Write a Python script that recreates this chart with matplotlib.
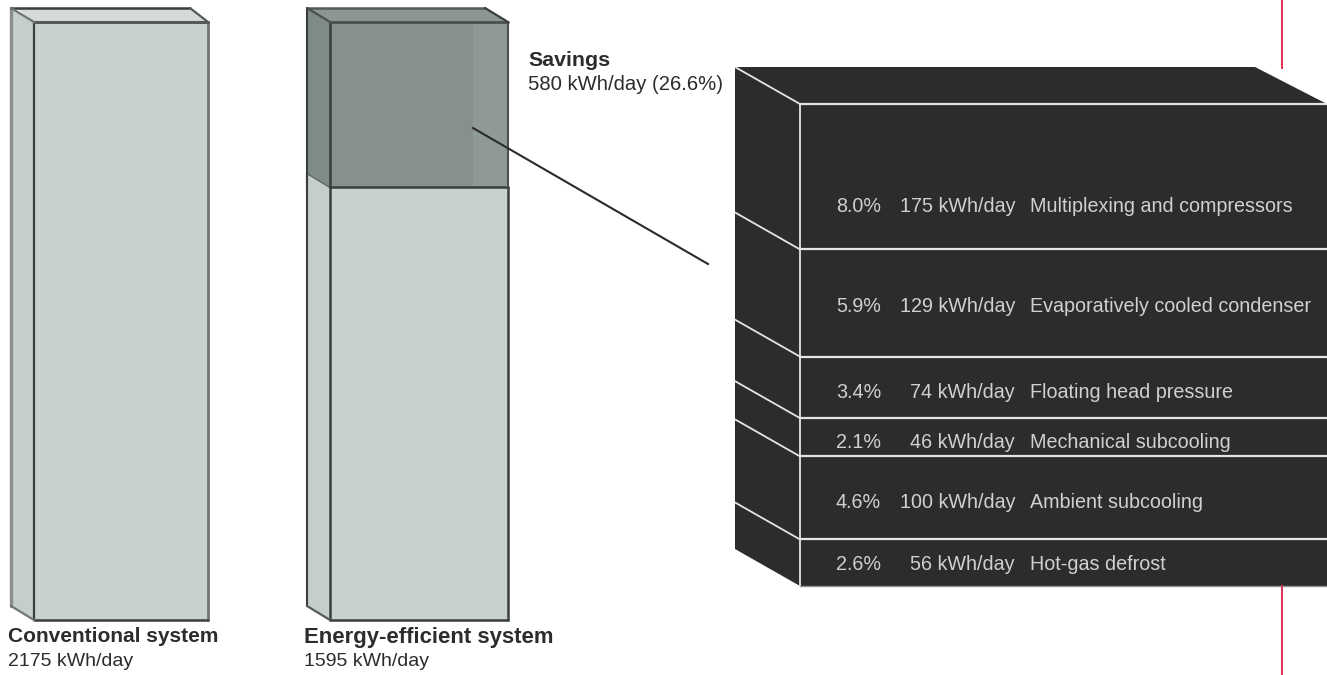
import matplotlib
matplotlib.use('Agg')
from matplotlib import pyplot as plt
from matplotlib.patches import Polygon
import numpy as np

plt.rcParams['font.family'] = ['Liberation Sans', 'DejaVu Sans']

# daily energy use of the two systems
conventional_kwh = 2175
efficient_kwh = 1595
savings_kwh = 580
savings_pct = 26.6

# breakdown of the savings, top of the stack first
measure_names = ['Multiplexing and compressors', 'Evaporatively cooled condenser',
                 'Floating head pressure', 'Mechanical subcooling',
                 'Ambient subcooling', 'Hot-gas defrost']
measure_pct = [8.0, 5.9, 3.4, 2.1, 4.6, 2.6]
measure_kwh = [175, 129, 74, 46, 100, 56]

W, H = 1327, 675
LIGHT = '#c9d1ce'
LIGHT_SIDE = '#c6cecb'
LIGHT_TOP = '#d5dbd9'
EDGE = '#3a3f3e'
DARK = '#2b2d2d'
RULE = '#e4e6e4'
TEXT = '#2c2c2c'

fig = plt.figure(figsize=(W/100, H/100), dpi=100)

# x runs in figure pixels, y in kWh between the given pixel rows
def scale_axes(base_px, top_px, kwh):
    ax = fig.add_axes([0, 0, 1, 1], facecolor='none')
    per_px = kwh/float(base_px-top_px)
    ax.set_xlim(0, W)
    ax.set_ylim(-(H-base_px)*per_px, base_px*per_px)
    ax.axis('off')
    return ax, per_px

def side_face(ax, per_px, x0, depth_x, depth_y, v0, v1, color, zorder=2):
    d = depth_y*per_px
    ax.add_patch(Polygon([[x0, v0], [x0, v1], [x0-depth_x, v1+d], [x0-depth_x, v0+d]],
                         closed=True, facecolor=color, edgecolor='none', zorder=zorder))

def top_face(ax, per_px, x0, x1, depth_x, depth_y, v, color, zorder=2):
    d = depth_y*per_px
    ax.add_patch(Polygon([[x0, v], [x1, v], [x1-depth_x, v+d], [x0-depth_x, v+d]],
                         closed=True, facecolor=color, edgecolor='none', zorder=zorder))

def wire(ax, xs, ys, color=EDGE, lw=1.8, zorder=5):
    ax.plot(xs, ys, color=color, lw=lw, zorder=zorder, solid_capstyle='round',
            solid_joinstyle='round')

# left column: conventional system
ax, k = scale_axes(620, 22, conventional_kwh)
dx, dy = 24, 14
x0, x1 = 34, 208
ax.bar((x0+x1)/2, conventional_kwh, width=x1-x0, color=LIGHT, zorder=3)
side_face(ax, k, x0, dx, 14, 0, conventional_kwh, LIGHT_SIDE)
top_face(ax, k, x0, x1, dx-6, dy, conventional_kwh, LIGHT_TOP)
wire(ax, [x0-dx+1, x0-dx+1], [14*k, conventional_kwh+dy*k], color='#8a8f8e', lw=2.4)
wire(ax, [x1, x1], [0, conventional_kwh], color='#6f7574', lw=2)
wire(ax, [x0, x0], [0, conventional_kwh], lw=1.6)
wire(ax, [x0, x1], [0, 0], lw=1.8)
wire(ax, [x0, x1], [conventional_kwh]*2, color='#555b5a', lw=2.2)
wire(ax, [x0-dx+1, x1-dx+6], [conventional_kwh+dy*k]*2, lw=1.8)
wire(ax, [x0-dx+1, x0], [conventional_kwh+dy*k, conventional_kwh], color='#6f7574', lw=1.6)
wire(ax, [x1-dx+6, x1], [conventional_kwh+dy*k, conventional_kwh], color='#555b5a', lw=1.6)
wire(ax, [x0-dx+1, x0], [14*k, 0], color='#6f7574', lw=1.6)

# middle column: efficient part and the savings sitting on top of it
low, k_low = scale_axes(620, 187, efficient_kwh)
sav, k_sav = scale_axes(187, 22, savings_kwh)
x0, x1 = 330, 508
split = 473
low.bar((x0+x1)/2, efficient_kwh, width=x1-x0, color=LIGHT, zorder=3)
side_face(low, k_low, x0, 23, 14, 0, efficient_kwh, LIGHT_SIDE)
wire(low, [x0, x0], [0, efficient_kwh], lw=1.8)
wire(low, [x1, x1], [0, efficient_kwh], lw=1.8)
wire(low, [x0, x1], [0, 0], lw=1.8)
wire(low, [x0-23, x0-23], [14*k_low, efficient_kwh+14*k_low], lw=1.5)
wire(low, [x0-23, x0], [14*k_low, 0], color='#555b5a', lw=1.6)
wire(low, [x0-23, x0], [efficient_kwh+14*k_low, efficient_kwh], color='#555b5a', lw=1.6)

sav.bar((x0+split)/2, savings_kwh, width=split-x0, color='#87918c', zorder=3)
sav.bar((split+x1)/2, savings_kwh, width=x1-split, color='#909a95', zorder=3)
side_face(sav, k_sav, x0, 23, 14, 0, savings_kwh, '#7f8b86')
top_face(sav, k_sav, x0, x1, 23, 14, savings_kwh, '#8d9792')
wire(sav, [x0, x1], [0, 0], lw=1.8)
wire(sav, [x0, x0], [0, savings_kwh], lw=1.8)
wire(sav, [x1, x1], [0, savings_kwh], color='#4a504e', lw=1.5)
wire(sav, [x0, x1], [savings_kwh]*2, color='#4a504e', lw=2)
wire(sav, [x0-23, x1-23], [savings_kwh+14*k_sav]*2, color='#555b5a', lw=1.8)
wire(sav, [x0-23, x0-23], [0, savings_kwh+14*k_sav], lw=1.5)
wire(sav, [x0-23, x0], [savings_kwh+14*k_sav, savings_kwh], color='#4a504e', lw=1.6)
wire(sav, [x1-23, x1], [savings_kwh+14*k_sav, savings_kwh], lw=1.6)

# right: the savings broken out into a dark stack, bottom band first
st, k_st = scale_axes(586, 104, savings_kwh)
x0, x1 = 800, W+30
dx, dy = 65, 37
band_kwh = np.array(measure_kwh[::-1])
band_base = np.concatenate([[0], np.cumsum(band_kwh)[:-1]])
st.bar(np.full(len(band_kwh), (x0+x1)/2), band_kwh, bottom=band_base, width=x1-x0,
       color=DARK, zorder=3)
side_face(st, k_st, x0, dx, dy, 0, savings_kwh, DARK)
d = dy*k_st
st.add_patch(Polygon([[x0, savings_kwh], [W, savings_kwh], [1255, savings_kwh+d],
                      [x0-dx, savings_kwh+d]], closed=True, facecolor=DARK,
                     edgecolor='none', zorder=2))
wire(st, [x0, x0], [0, savings_kwh], color=RULE, lw=1.3)
for v in np.concatenate([band_base[1:], [savings_kwh]]):
    wire(st, [x0, W], [v, v], color=RULE, lw=1.6)
    wire(st, [x0-dx, x0], [v+d, v], color=RULE, lw=1.3)
wire(st, [x0, W], [0, 0], color='#8f9291', lw=1)

# plain pixel layer for labels and the thin rules
page = fig.add_axes([0, 0, 1, 1], facecolor='none')
page.set_xlim(0, W)
page.set_ylim(H, 0)
page.axis('off')

page.plot([473, 708], [128, 264], color='#2a2a2a', lw=1.5, zorder=6)
page.plot([1282, 1282], [0, 68], color='#d8324f', lw=1.4, zorder=1)
page.plot([1282, 1282], [586, H], color='#d8324f', lw=1.4, zorder=1)

def caption(x, y, head, body, head_size=15.4, body_size=14.0):
    page.text(x, y, head, fontsize=head_size, fontweight='bold', color=TEXT, va='center', ha='left')
    page.text(x, y+24, body, fontsize=body_size, color=TEXT, va='center', ha='left')

caption(8, 637, 'Conventional system', '%d kWh/day' % conventional_kwh, head_size=15.0)
caption(304, 638, 'Energy-efficient system', '%d kWh/day' % efficient_kwh, head_size=15.9)
caption(528, 60, 'Savings', '%d kWh/day (%.1f%%)' % (savings_kwh, savings_pct), body_size=14.6)

label_rows = [207, 307, 393, 442, 503, 564]
for name, pct, kwh, y in zip(measure_names, measure_pct, measure_kwh, label_rows):
    page.text(836, y, '%.1f%%' % pct, fontsize=14.2, color='#cfd1d0', va='center', ha='left', zorder=7)
    page.text(1015, y, '%d kWh/day' % kwh, fontsize=14.2, color='#cfd1d0', va='center', ha='right', zorder=7)
    page.text(1030, y, name, fontsize=14.2, color='#cfd1d0', va='center', ha='left', zorder=7)

fig.savefig('out.png', dpi=100, facecolor='white')
